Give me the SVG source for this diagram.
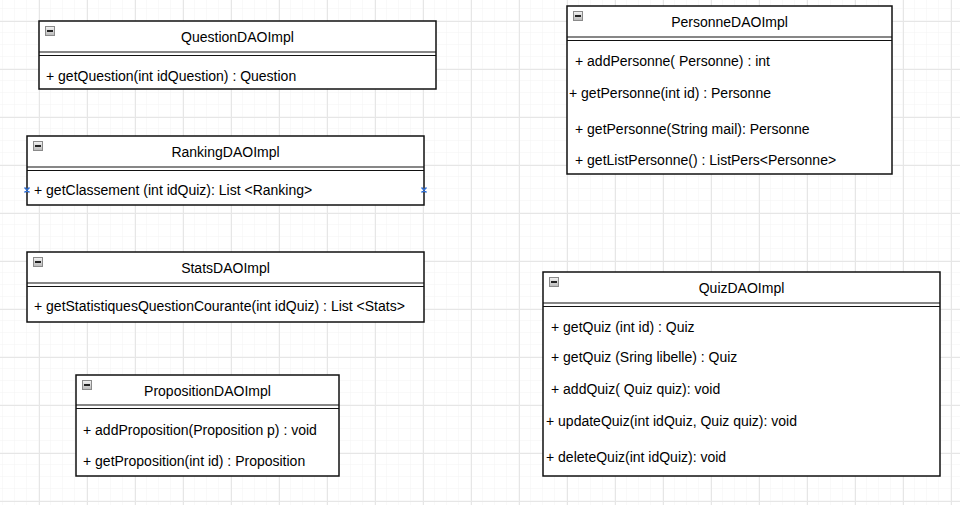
<svg xmlns="http://www.w3.org/2000/svg" width="960" height="505" viewBox="0 0 960 505">
<defs>
<pattern id="minor" x="3" y="9" width="12" height="12" patternUnits="userSpaceOnUse">
<path d="M12 0 V12 M0 12 H12" fill="none" stroke="#f3f3f3" stroke-width="1"/>
</pattern>
<pattern id="major" x="39" y="21" width="48" height="48" patternUnits="userSpaceOnUse">
<path d="M0.5 0 V48 M0 0.5 H48" fill="none" stroke="#e6e6e6" stroke-width="1"/>
</pattern>
<linearGradient id="ig" x1="0" y1="0" x2="0" y2="1">
<stop offset="0" stop-color="#f4f4f4"/>
<stop offset="1" stop-color="#b8b8b8"/>
</linearGradient>
<g id="icon">
<rect x="0.5" y="0.5" width="9" height="9" fill="url(#ig)" stroke="#8a8a8a" stroke-width="1"/>
<rect x="2" y="4" width="6" height="2" fill="#222"/>
</g>
</defs>
<style>
.box{fill:#fff;stroke:#111;stroke-width:1.5}
.sep{stroke:#111;stroke-width:1.2;fill:none}
text{font-family:"Liberation Sans",Arial,Helvetica,sans-serif;font-size:14px;fill:#000}
.t{text-anchor:middle}
.hdl{stroke:#2f6fd6;stroke-width:1.5;fill:none}
</style>
<rect width="960" height="505" fill="#fff"/>
<rect width="960" height="505" fill="url(#minor)"/>
<rect width="960" height="505" fill="url(#major)"/>

<g id="connectors"></g>

<g id="QuestionDAOImpl">
<rect class="box" x="39" y="21" width="397" height="68"/>
<path class="sep" d="M39 52 H436 M39 55.5 H436"/>
<use href="#icon" x="45" y="26"/>
<text class="t" x="237.5" y="42">QuestionDAOImpl</text>
<text x="46" y="81">+ getQuestion(int idQuestion) : Question</text>
</g>

<g id="RankingDAOImpl">
<rect class="box" x="27" y="136" width="397" height="69"/>
<path class="sep" d="M27 167 H424 M27 170.5 H424"/>
<use href="#icon" x="33" y="141"/>
<text class="t" x="225.5" y="157">RankingDAOImpl</text>
<text x="34" y="195">+ getClassement (int idQuiz): List &lt;Ranking&gt;</text>
<path class="hdl" d="M24.5 187.5 L29.5 192.5 M29.5 187.5 L24.5 192.5 M421.5 187.5 L426.5 192.5 M426.5 187.5 L421.5 192.5"/>
</g>

<g id="StatsDAOImpl">
<rect class="box" x="27" y="252" width="397" height="70"/>
<path class="sep" d="M27 283 H424 M27 286.5 H424"/>
<use href="#icon" x="33" y="257"/>
<text class="t" x="225.5" y="273">StatsDAOImpl</text>
<text x="34" y="311">+ getStatistiquesQuestionCourante(int idQuiz) : List &lt;Stats&gt;</text>
</g>

<g id="PropositionDAOImpl">
<rect class="box" x="76" y="375" width="263" height="101"/>
<path class="sep" d="M76 405 H339 M76 408.5 H339"/>
<use href="#icon" x="82" y="380"/>
<text class="t" x="207.5" y="396">PropositionDAOImpl</text>
<text x="83" y="435">+ addProposition(Proposition p) : void</text>
<text x="83" y="466">+ getProposition(int id) : Proposition</text>
</g>

<g id="PersonneDAOImpl">
<rect class="box" x="567" y="6" width="325" height="168"/>
<path class="sep" d="M567 37 H892 M567 40.5 H892"/>
<use href="#icon" x="573" y="11"/>
<text class="t" x="729.5" y="27">PersonneDAOImpl</text>
<text x="575" y="66">+ addPersonne( Personne) : int</text>
<text x="569" y="98">+ getPersonne(int id) : Personne</text>
<text x="575" y="134">+ getPersonne(String mail): Personne</text>
<text x="575" y="165">+ getListPersonne() : ListPers&lt;Personne&gt;</text>
</g>

<g id="QuizDAOImpl">
<rect class="box" x="543" y="272" width="397" height="204"/>
<path class="sep" d="M543 303 H940 M543 306.5 H940"/>
<use href="#icon" x="549" y="277"/>
<text class="t" x="741.5" y="293">QuizDAOImpl</text>
<text x="551" y="332">+ getQuiz (int id) : Quiz</text>
<text x="551" y="362">+ getQuiz (Sring libelle) : Quiz</text>
<text x="551" y="394">+ addQuiz( Quiz quiz): void</text>
<text x="546" y="426">+ updateQuiz(int idQuiz, Quiz quiz): void</text>
<text x="546" y="462">+ deleteQuiz(int idQuiz): void</text>
</g>
</svg>
